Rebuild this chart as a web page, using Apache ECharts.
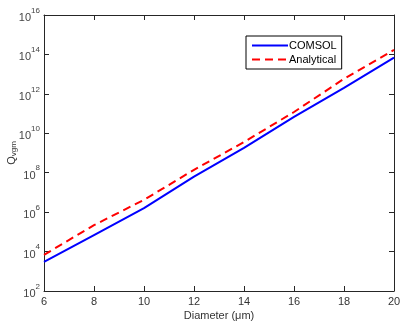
<!DOCTYPE html>
<html><head><meta charset="utf-8">
<script src="https://cdn.jsdelivr.net/npm/echarts@6/dist/echarts.min.js"></script>
<style>html,body{margin:0;padding:0;background:#fff}#c{width:406px;height:330px}</style>
</head><body><div id="c"></div>
<script>
const diameters = [6, 8, 10, 12, 14, 16, 18, 20];
const comsol = [3.0e3, 6.9e4, 1.6e6, 6.3e7, 1.8e9, 6.8e10, 2.0e12, 6.8e13];
const analytical = [6.8e3, 2.2e5, 4.2e6, 1.4e8, 3.6e9, 1.2e11, 5.8e12, 1.7e14];
const xTicks = [6, 8, 10, 12, 14, 16, 18, 20];
const yExponents = [2, 4, 6, 8, 10, 12, 14, 16];

const font = 'Liberation Sans, Arial, sans-serif';
const chart = echarts.init(document.getElementById('c'), null, {renderer: 'canvas'});
const tickCol = '#262626';
const supFmt = v => {
  const e = Math.round(Math.log10(v));
  return yExponents.includes(e) ? '{b|10}{s|' + e + '}' : '';
};
const axisCommon = {
  axisLine: {show: true, lineStyle: {color: tickCol, width: 1}},
  axisTick: {show: true, inside: true, length: 5, lineStyle: {color: tickCol}},
  splitLine: {show: false},
  minorTick: {show: false}
};
chart.setOption({
  animation: false,
  backgroundColor: '#fff',
  grid: {left: 44, right: 12, top: 15, bottom: 39, containLabel: false, outerBoundsMode: 'none'},
  legend: {
    orient: 'vertical', left: 246, top: 36,
    backgroundColor: '#fff', borderColor: '#000', borderWidth: 1,
    padding: [4, 5, 4, 5], itemGap: 3, itemWidth: 36, itemHeight: 10,
    itemStyle: {opacity: 0},
    textStyle: {fontFamily: font, fontSize: 11, color: '#000', padding: [0,0,0,-4]},
    data: ['COMSOL', 'Analytical']
  },
  xAxis: [
    Object.assign({type: 'value', min: 6, max: 20, interval: 2, position: 'bottom',
      name: 'Diameter (\u03bcm)', nameLocation: 'middle', nameGap: 19, nameMoveOverlap: false,
      nameTextStyle: {fontFamily: font, fontSize: 11, color: '#333'},
      axisLabel: {fontFamily: font, fontSize: 11, color: '#333', margin: 5}}, axisCommon),
    Object.assign({type: 'value', min: 6, max: 20, interval: 2, position: 'top',
      axisLabel: {show: false}}, axisCommon)
  ],
  yAxis: [
    Object.assign({type: 'log', logBase: 10, min: 1e2, max: 1e16, interval: 2, position: 'left',
      name: '{q|Q}{sub|vgm}', nameLocation: 'middle', nameGap: 26, nameRotate: 90, nameMoveOverlap: false,
      nameTextStyle: {rich: {
        q: {fontFamily: font, fontSize: 11, color: '#333'},
        sub: {fontFamily: font, fontSize: 8, color: '#333', verticalAlign: 'bottom', padding: [5,0,0,0]}
      }},
      axisLabel: {formatter: supFmt, margin: 4, rich: {
        b: {fontFamily: font, fontSize: 11, color: '#444', padding: [6,0,0,0]},
        s: {fontFamily: font, fontSize: 8, color: '#444', verticalAlign: 'top', padding: [0,0,6,0]}
      }}}, axisCommon),
    Object.assign({type: 'log', logBase: 10, min: 1e2, max: 1e16, interval: 2, position: 'right',
      axisLabel: {show: false}}, axisCommon)
  ],
  series: [
    {name: 'COMSOL', type: 'line', showSymbol: false, symbol: 'none',
     data: diameters.map((d, i) => [d, comsol[i]]),
     lineStyle: {color: '#0000ff', width: 2}, itemStyle: {color: '#0000ff'}},
    {name: 'Analytical', type: 'line', showSymbol: false, symbol: 'none',
     data: diameters.map((d, i) => [d, analytical[i]]),
     lineStyle: {color: '#ff0000', width: 2, type: [8, 5]}, itemStyle: {color: '#ff0000'}}
  ]
});
</script></body></html>
